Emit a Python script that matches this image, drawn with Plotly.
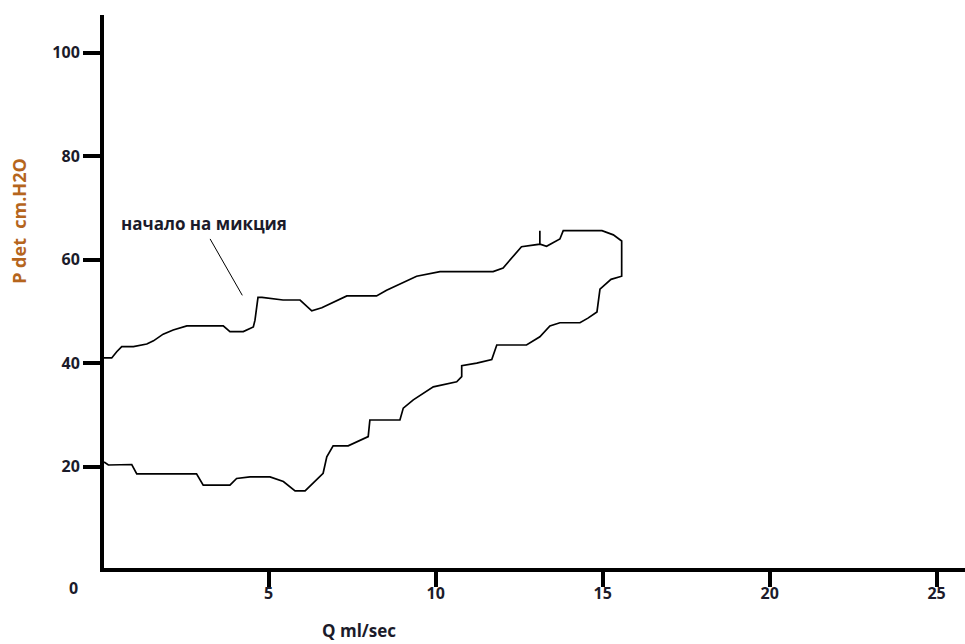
import plotly.graph_objects as go

# Pressure-flow loop: detrusor pressure vs. urine flow rate
flow = [0.07, 0.30, 0.45, 0.60, 0.95, 1.35, 1.55, 1.84, 2.14, 2.55, 3.64, 3.84, 4.24, 4.54,
        4.59, 4.68, 4.80, 5.43, 5.94, 6.29, 6.59, 7.34, 8.23, 8.53, 9.43, 10.13, 11.72,
        12.02, 12.57, 13.12, 13.12, 13.12, 13.32, 13.72, 13.82, 14.98, 15.32, 15.57, 15.57,
        15.25, 14.92, 14.83, 14.56, 14.32, 13.72, 13.42, 13.12, 12.72, 11.83, 11.68, 11.23,
        10.78, 10.78, 10.63, 9.93, 9.33, 9.03, 8.93, 8.03, 7.98, 7.38, 6.93, 6.74, 6.63,
        6.09, 5.79, 5.44, 5.04, 4.44, 4.04, 3.84, 3.04, 2.84, 1.05, 0.90, 0.50, 0.40, 0.20,
        0.07]
pdet = [41.0, 41.0, 42.2, 43.2, 43.2, 43.7, 44.3, 45.6, 46.4, 47.2, 47.2, 46.1, 46.1, 47.0,
        48.3, 52.7, 52.7, 52.2, 52.2, 50.1, 50.7, 53.0, 53.0, 54.1, 56.8, 57.7, 57.7,
        58.4, 62.5, 63.0, 65.6, 63.0, 62.6, 64.0, 65.6, 65.6, 64.8, 63.6, 56.8,
        56.2, 54.3, 49.9, 48.7, 47.8, 47.8, 47.2, 45.1, 43.5, 43.5, 40.7, 40.0,
        39.5, 37.4, 36.4, 35.4, 32.9, 31.3, 29.0, 29.0, 25.8, 24.0, 24.0, 21.9, 18.7,
        15.3, 15.3, 17.1, 18.0, 18.0, 17.7, 16.4, 16.4, 18.6, 18.6, 20.4, 20.4, 20.3, 20.3,
        20.9]

x_ticks = [5, 10, 15, 20, 25]
y_ticks = [20, 40, 60, 80, 100]

# Onset-of-voiding marker: label position and pointer end points
onset_label = "начало на микция"
onset_text_xy = (3.05, 67.0)
onset_tail_xy = (3.22, 64.3)
onset_head_xy = (4.21, 53.1)

FONT = "Open Sans"
INK = "#1b1b2a"
TITLE_ORANGE = "#b5651d"

fig = go.Figure()
fig.add_trace(go.Scatter(
    x=flow, y=pdet, mode="lines",
    line=dict(color="black", width=1.7),
    hoverinfo="skip", showlegend=False,
))

fig.add_annotation(
    x=onset_text_xy[0], y=onset_text_xy[1], text=onset_label, showarrow=False,
    font=dict(family=FONT, size=17, color=INK, weight="bold"),
)
fig.add_annotation(
    x=onset_head_xy[0], y=onset_head_xy[1], ax=onset_tail_xy[0], ay=onset_tail_xy[1],
    axref="x", ayref="y", text="", showarrow=True, arrowhead=0, arrowwidth=1,
    arrowcolor="black",
)
# Origin label in the corner
fig.add_annotation(
    x=0.07, y=0.39, text="0", showarrow=False, xshift=-31, yshift=-20,
    font=dict(family=FONT, size=16, color=INK, weight="bold"),
)
# Flow-rate axis title, under the left part of the axis
fig.add_annotation(
    x=7.7, y=0.39, text="Q ml/sec", showarrow=False, yshift=-62,
    font=dict(family=FONT, size=17, color=INK, weight="bold"),
)
# Pressure axis title, rotated, level with the upper half of the axis
fig.add_annotation(
    xref="paper", x=0, y=67.5, text="P det  cm.H2O", showarrow=False,
    textangle=-90, xanchor="center", xshift=-85,
    font=dict(family=FONT, size=18, color=TITLE_ORANGE, weight="bold"),
)

fig.update_xaxes(
    range=[0.069, 25.85], tickvals=x_ticks, ticktext=[str(v) for v in x_ticks],
    showline=True, linecolor="black", linewidth=4, mirror=False,
    ticks="outside", ticklen=15, tickwidth=4, tickcolor="black",
    ticklabelstandoff=-7,
    showgrid=False, zeroline=False,
    tickfont=dict(family=FONT, size=16, color=INK, weight="bold"),
)
fig.update_yaxes(
    range=[0.39, 107.3], tickvals=y_ticks, ticktext=[str(v) for v in y_ticks],
    showline=True, linecolor="black", linewidth=4, mirror=False,
    ticks="outside", ticklen=17, tickwidth=4, tickcolor="black",
    showgrid=False, zeroline=False,
    tickfont=dict(family=FONT, size=16, color=INK, weight="bold"),
)

fig.update_layout(
    width=965, height=644,
    margin=dict(l=104, r=0, t=15, b=76),
    paper_bgcolor="white", plot_bgcolor="white",
    showlegend=False,
)

fig.write_html("out.html")
